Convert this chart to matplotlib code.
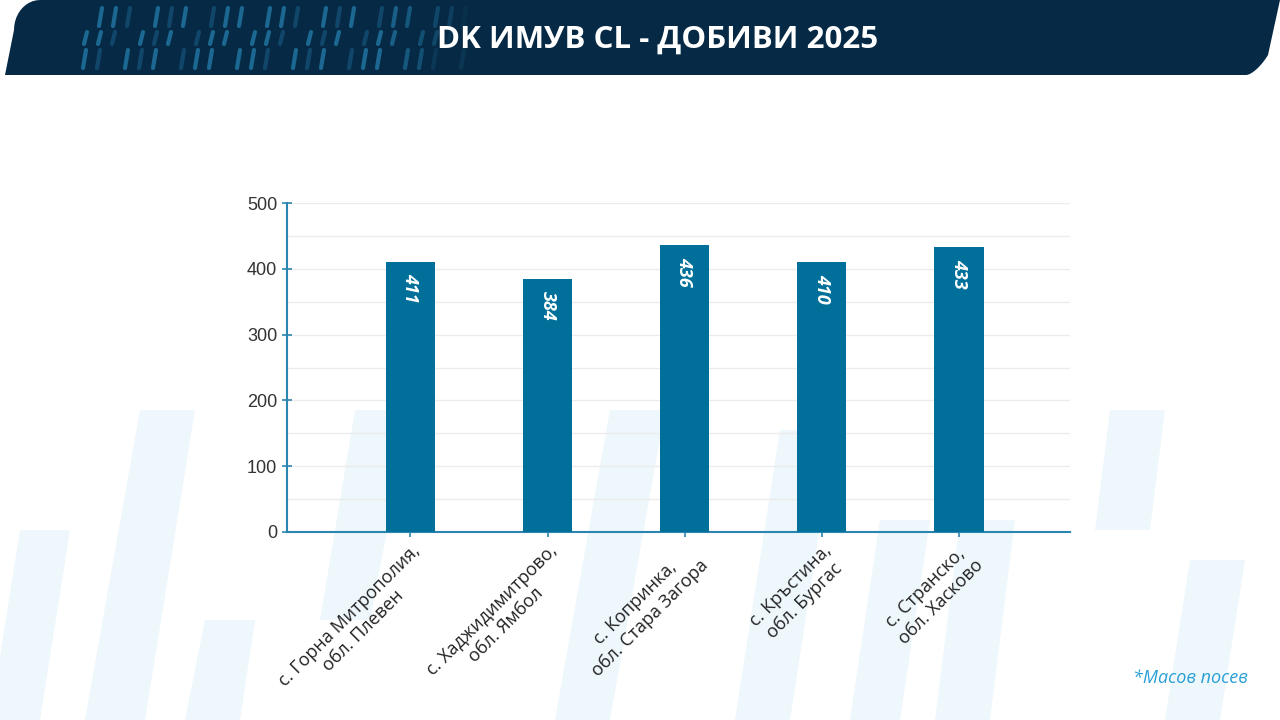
import numpy as np
import matplotlib.pyplot as plt
from matplotlib.patches import Polygon
from matplotlib.ticker import MultipleLocator

# data
locations = [
    "с. Горна Митрополия,\nобл. Плевен",
    "с. Хаджидимитрово,\nобл. Ямбол",
    "с. Копринка,\nобл. Стара Загора",
    "с. Кръстина,\nобл. Бургас",
    "с. Странско,\nобл. Хасково",
]
yields = [411, 384, 436, 410, 433]

title = "DK ИМУВ CL - ДОБИВИ 2025"
note = "*Масов посев"

navy = "#062a45"
bar_col = "#00709a"
axis_col = "#2a86b0"

plt.rcParams['font.family'] = ['Open Sans', 'DejaVu Sans']

W, H = 1280, 720
fig = plt.figure(figsize=(12.8, 7.2), dpi=100)
fig.patch.set_facecolor("white")


def px(pts):
    return [(x / W, 1 - y / H) for x, y in pts]


# faint background stripes
shapes = [
    [(20, 530), (70, 530), (40, 720), (-10, 720)],
    [(140, 410), (195, 410), (145, 720), (85, 720)],
    [(355, 410), (410, 410), (370, 620), (320, 620)],
    [(205, 620), (255, 620), (240, 720), (185, 720)],
    [(610, 410), (665, 410), (610, 720), (555, 720)],
    [(780, 430), (835, 430), (790, 720), (735, 720)],
    [(960, 520), (1015, 520), (990, 720), (935, 720)],
    [(1110, 410), (1165, 410), (1150, 530), (1095, 530)],
    [(1190, 560), (1245, 560), (1220, 720), (1165, 720)],
    [(880, 520), (930, 520), (900, 720), (850, 720)],
]
for s in shapes:
    fig.patches.append(Polygon(px(s), closed=True, transform=fig.transFigure,
                               facecolor="#eef7fc", edgecolor="none", zorder=-5))

# header banner with rounded corners
t = np.linspace(0, np.pi / 2, 12)
banner = ([(1280, 0), (1268, 55)]
          + [(1268 - 10 * (1 - np.cos(a)) - 12 * np.sin(a), 55 + 20 * np.sin(a)) for a in t]
          + [(5, 75), (14, 30)]
          + [(14 + 26 * (1 - np.cos(a)), 30 - 30 * np.sin(a)) for a in t])
fig.patches.append(Polygon(px(banner), closed=True, transform=fig.transFigure,
                           facecolor=navy, edgecolor="none", zorder=1))
# decorative dashes, fading towards the title
for i in range(28):
    x0 = 85 + i * 14
    fade = 0.9 if i < 22 else 0.9 - (i - 21) * 0.12
    for j, (a, b) in enumerate([(8, 26), (32, 44), (50, 68)]):
        if (i * 7 + j * 3) % 4 == 0:
            continue
        fig.add_artist(plt.Line2D([(x0 + 3 - j) / W, (x0 - j) / W],
                                  [1 - a / H, 1 - b / H],
                                  color="#1f6f9c" if (i + j) % 3 else "#134a70",
                                  lw=3, alpha=fade, solid_capstyle="round", zorder=2))
fig.text(658 / W, 1 - 40 / H, title, color="white", fontsize=22.5, fontweight="bold",
         ha="center", va="center", zorder=3)

# chart
ax = fig.add_axes([287 / W, 1 - 532 / H, (1070 - 287) / W, (532 - 203) / H])
ax.set_facecolor("none")
x = np.arange(len(locations))
bars = ax.bar(x, yields, width=0.36, color=bar_col, zorder=3)

ax.set_ylim(0, 500)
ax.set_xlim(-0.9, 4.81)
ax.yaxis.set_major_locator(MultipleLocator(100))
ax.yaxis.set_minor_locator(MultipleLocator(50))
ax.grid(axis="y", which="both", color="#ececec", lw=1, zorder=0)
ax.grid(axis="x", visible=False)

for sp in ["top", "right"]:
    ax.spines[sp].set_visible(False)
for sp in ["left", "bottom"]:
    ax.spines[sp].set_color(axis_col)
    ax.spines[sp].set_linewidth(1.5)

ax.tick_params(axis="y", which="major", length=7, width=1.2, color=axis_col,
               labelsize=13, labelcolor="#333333", direction="inout")
ax.tick_params(axis="y", which="minor", length=0)
ax.tick_params(axis="x", length=7, width=1.2, color=axis_col, direction="inout")
for lab in ax.get_yticklabels():
    lab.set_fontfamily(['Liberation Sans', 'DejaVu Sans'])

ax.set_xticks(x)
ax.set_xticklabels(locations, rotation=45, ha="right", va="top",
                   rotation_mode="anchor", fontsize=13, color="#222222",
                   multialignment="center")

for b, v in zip(bars, yields):
    ax.text(b.get_x() + b.get_width() / 2, v - 40, str(v), rotation=270,
            ha="center", va="center", color="white", fontsize=13,
            fontweight="bold", fontstyle="italic", zorder=4)

fig.text(1248 / W, 1 - 678 / H, note, color="#2a9fd6", fontsize=13,
         fontstyle="italic", ha="right", va="center")

fig.savefig("out.png", dpi=100)
